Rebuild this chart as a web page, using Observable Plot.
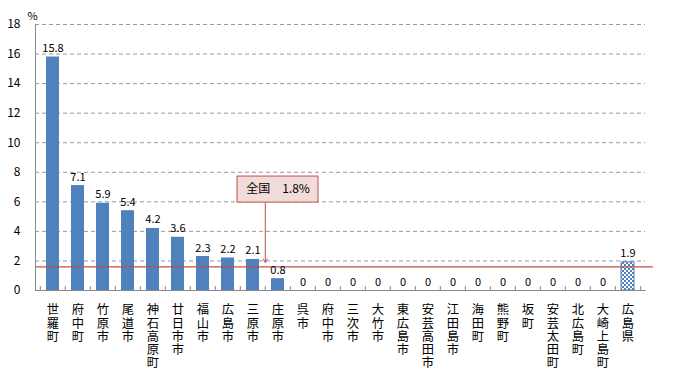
<!DOCTYPE html>
<html>
<head>
<meta charset="utf-8">
<script src="https://cdn.jsdelivr.net/npm/d3@7"></script>
<script src="https://cdn.jsdelivr.net/npm/@observablehq/plot@0.6"></script>
<style>
  html, body { margin: 0; padding: 0; background: #fff; }
  svg { display: block; }
  .vlabel text { writing-mode: vertical-rl; text-orientation: upright; letter-spacing: 1px; }
</style>
</head>
<body>
<div id="chart"></div>
<script>
const names = ["世羅町","府中町","竹原市","尾道市","神石高原町","廿日市市","福山市","広島市","三原市","庄原市","呉市","府中市","三次市","大竹市","東広島市","安芸高田市","江田島市","海田町","熊野町","坂町","安芸太田町","北広島町","大崎上島町","広島県"];
const values = [15.8,7.1,5.9,5.4,4.2,3.6,2.3,2.2,2.1,0.8,0,0,0,0,0,0,0,0,0,0,0,0,0,1.9];
const valueLabels = ["15.8","7.1","5.9","5.4","4.2","3.6","2.3","2.2","2.1","0.8","0","0","0","0","0","0","0","0","0","0","0","0","0","1.9"];
const yTicks = [0,2,4,6,8,10,12,14,16,18];
const prefName = "広島県";
const nationalLineValue = 1.6;
const nationalText = "全国　1.8%";
const unitLabel = "%";

const data = names.map((n, i) => ({name: n, value: values[i], label: valueLabels[i]}));
const cities = data.filter(d => d.name !== prefName);
const pref = data.filter(d => d.name === prefName);

const blue = "#4f81bd";
const red = "#c0504d";
const font = "'Noto Sans CJK JP', 'DejaVu Sans', sans-serif";
const half = 12.7;

const chart = Plot.plot({
  width: 678,
  height: 371,
  marginLeft: 35,
  marginRight: 33,
  marginTop: 24,
  marginBottom: 81,
  style: {fontFamily: font, background: "#fff"},
  x: {domain: names, paddingInner: 0.48, paddingOuter: 0, align: 0.5, axis: null},
  y: {domain: [0, 18], axis: null},
  marks: [
    Plot.gridY(yTicks.filter(t => t > 0), {stroke: "#999", strokeOpacity: 1, strokeDasharray: "4,3"}),
    Plot.axisY(yTicks, {tickSize: 0, tickPadding: 15, fontSize: 12, fill: "#000", label: null}),
    Plot.text([unitLabel], {frameAnchor: "top-left", dx: -8, dy: -12, fontSize: 11, fill: "#000"}),
    Plot.barY(cities, {x: "name", y: "value", fill: blue}),
    Plot.barY(pref, {x: "name", y: "value", fill: "url(#checker)", stroke: blue, strokeWidth: 1}),
    Plot.ruleY([nationalLineValue], {stroke: red, strokeWidth: 1.3, insetRight: -8}),
    Plot.frame({anchor: "left", stroke: "#888"}),
    Plot.frame({anchor: "bottom", stroke: "#888"}),
    Plot.ruleX(names, {x: d => d, dx: -half, y1: 0, y2: 0.27, stroke: "#888"}),
    Plot.ruleX([prefName], {x: d => d, dx: half, y1: 0, y2: 0.27, stroke: "#888"}),
    Plot.text(data, {x: "name", y: "value", text: "label", dy: -5, lineAnchor: "bottom", fontSize: 11, fill: "#000"}),
    Plot.text(data, {x: "name", text: "name", frameAnchor: "bottom", dy: 9, textAnchor: "start", lineAnchor: "middle", fontSize: 12.3, fill: "#000", className: "vlabel"}),
    Plot.rect([{name: "庄原市"}], {x: "name", y1: 5.95, y2: 7.71, insetLeft: -34, insetRight: -34, fill: "#f2dcdb", stroke: red, strokeWidth: 1}),
    Plot.text([{name: "庄原市", t: nationalText}], {x: "name", y: 6.83, text: "t", fontSize: 12, fill: "#000"}),
    Plot.arrow([{name: "庄原市"}], {x1: "name", x2: "name", y1: 5.95, y2: 1.9, dx: -half, stroke: red, strokeWidth: 1, headLength: 6})
  ]
});

const svg = d3.select(chart);
const defs = svg.insert("defs", ":first-child");
const pat = defs.append("pattern").attr("id", "checker").attr("patternUnits", "userSpaceOnUse").attr("width", 4).attr("height", 4);
pat.append("rect").attr("width", 4).attr("height", 4).attr("fill", "#fff");
pat.append("rect").attr("width", 2).attr("height", 2).attr("fill", blue);
pat.append("rect").attr("x", 2).attr("y", 2).attr("width", 2).attr("height", 2).attr("fill", blue);
// vertical writing: remove baseline shift so glyphs stay centred on the band
svg.selectAll(".vlabel text").attr("dy", null);

document.getElementById("chart").appendChild(chart);
</script>
</body>
</html>
